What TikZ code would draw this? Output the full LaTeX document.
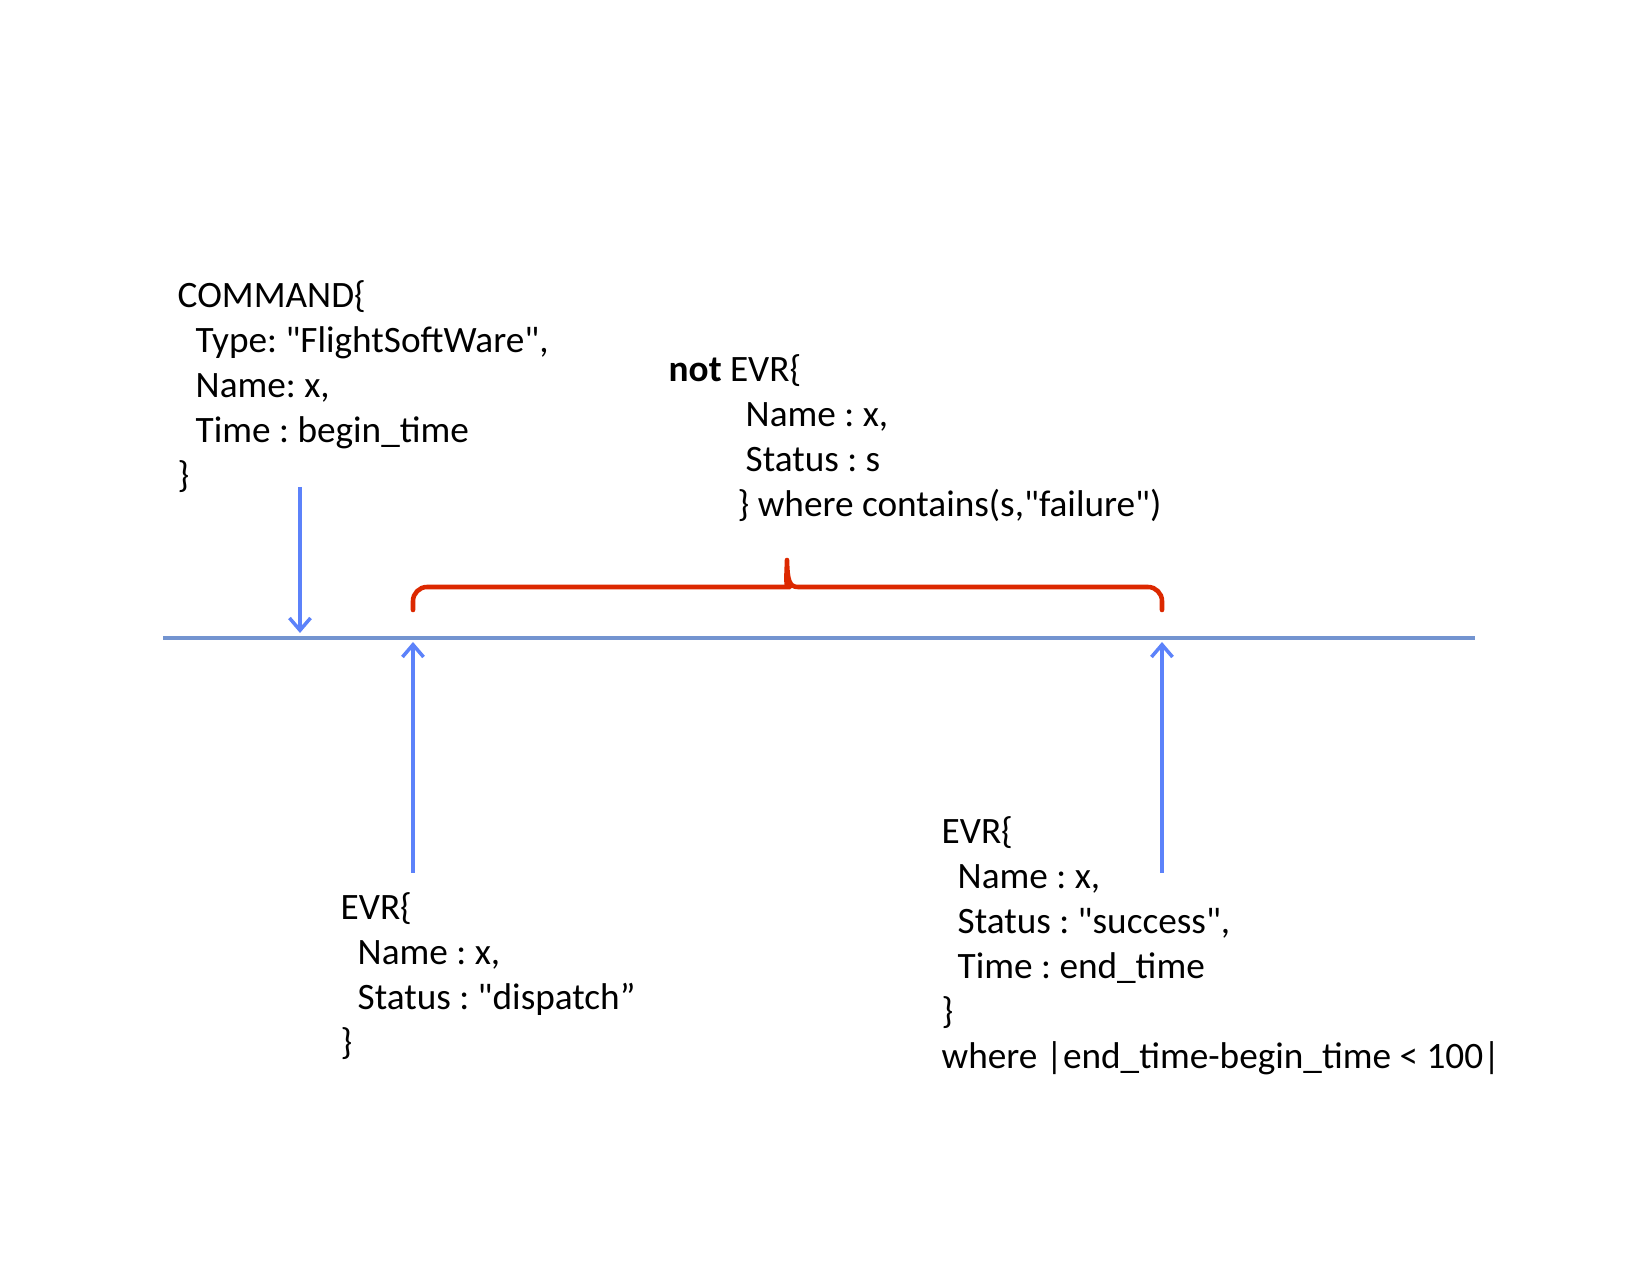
\documentclass[tikz,border=0pt]{standalone}
\usepackage{fontspec}
\setmainfont{Carlito}[Ligatures=TeXOff]
\usetikzlibrary{arrows.meta}
\definecolor{axisblue}{RGB}{115,148,208}
\definecolor{arrowblue}{RGB}{92,130,250}
\definecolor{bracered}{RGB}{220,40,0}
\tikzset{
    block/.style={align=left, inner sep=0pt, anchor=west, font=\fontsize{10.6}{12.8}\selectfont\frenchspacing},
    event/.style={draw=arrowblue, line width=1pt, -{Straight Barb[length=3.5pt,width=6pt,line width=1pt]}}
}
\begin{document}
\begin{tikzpicture}
                \useasboundingbox (0,0) rectangle (16.5,12.75);

                % time line
                \coordinate (start) at (1.63,6.37);
                \coordinate (stop) at (14.75,6.37);
                \draw [axisblue, line width=1.1pt] (start) -- (stop);

                \node (cmd) [block] at (1.77,8.88) {COMMAND\{\\
                    \hspace{0.18cm}Type: "FlightSoftWare",\\
                    \hspace{0.18cm}Name: x,\\
                    \hspace{0.18cm}Time : begin\_time\\
                    \}};

                \node (notevr) [block] at (6.68,8.37) {\textbf{not} EVR\{\\
                    \hspace{0.77cm}Name : x,\\
                    \hspace{0.77cm}Status : s\\
                    \hspace{0.69cm}\} where contains(s,"failure")};

                \node (dispatch) [block] at (3.40,2.99) {EVR\{\\
                    \hspace{0.17cm}Name : x,\\
                    \hspace{0.17cm}Status : "dispatch”\\
                    \}};

                \node (success) [block] at (9.41,3.29) {EVR\{\\
                    \hspace{0.16cm}Name : x,\\
                    \hspace{0.16cm}Status : "success",\\
                    \hspace{0.16cm}Time : end\_time\\
                    \}\\
                    where |end\_time-begin\_time < 100|};

                \coordinate (cmdfrom) at (3.00,7.88);
                \coordinate (cmdat) at (3.00,6.42);
                \coordinate (dispfrom) at (4.13,4.02);
                \coordinate (dispat) at (4.13,6.33);
                \coordinate (succfrom) at (11.62,4.02);
                \coordinate (succat) at (11.62,6.33);
                \path
                    (cmdfrom) edge [event] (cmdat)
                    (dispfrom) edge [event] (dispat)
                    (succfrom) edge [event] (succat)
                ;

                % interval where no failure may occur
                \coordinate (bl) at (4.13,6.65);
                \coordinate (br) at (11.62,6.65);
                \coordinate (peak) at (7.87,7.15);
                \draw [bracered, line width=1.3pt, line cap=round, line join=round]
                    (bl) [rounded corners=4pt] -- (bl |- 0,6.88) -- (7.76,6.88) [sharp corners]
                    .. controls (7.85,6.88) and (7.865,6.95) .. (peak)
                    .. controls (7.875,6.95) and (7.89,6.88) .. (7.98,6.88)
                    [rounded corners=4pt] -- (br |- 0,6.88) -- (br);
            \end{tikzpicture}
\end{document}
